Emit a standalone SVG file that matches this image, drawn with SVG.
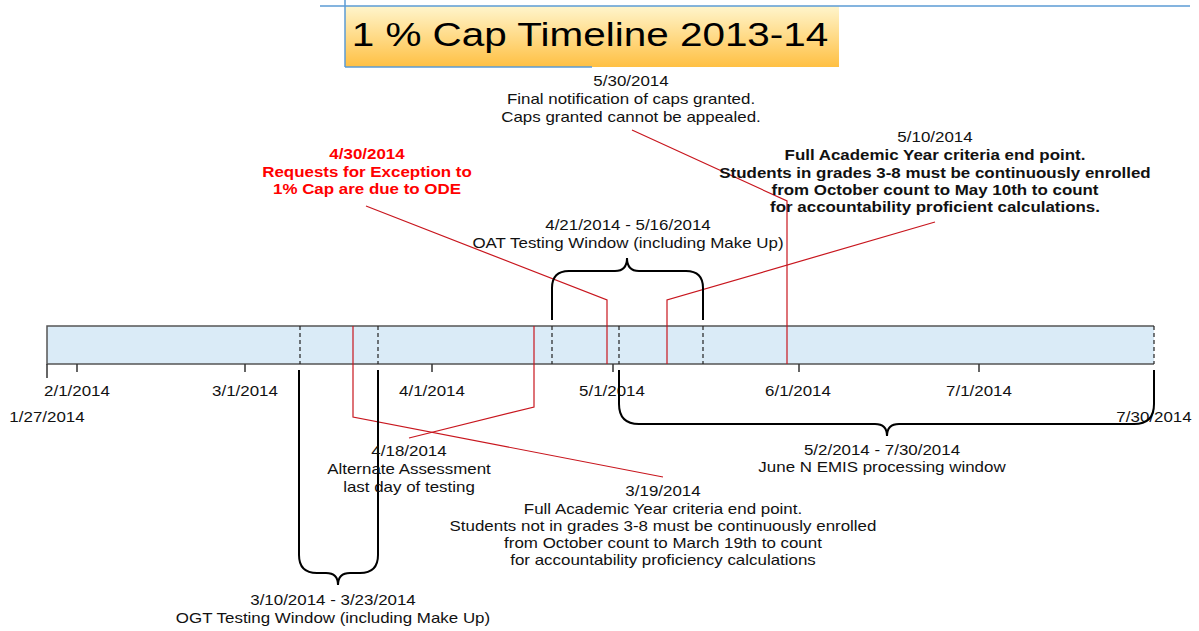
<svg xmlns="http://www.w3.org/2000/svg" width="1199" height="631" viewBox="0 0 1199 631">
<style>
.t{font-family:"Liberation Sans",Arial,sans-serif;font-size:14px;fill:#111;text-anchor:middle}
.b{font-weight:bold}
.r{font-weight:bold;fill:#FF0000}
.red{fill:none;stroke:#C8161E;stroke-width:1.2}
.brace{fill:none;stroke:#000;stroke-width:2}
.dash{stroke:#222;stroke-width:1.2;stroke-dasharray:4 3}
.tick{stroke:#333;stroke-width:1.5}
</style>
<defs>
<linearGradient id="tg" x1="0" y1="0" x2="0" y2="1">
<stop offset="0" stop-color="#FFF5CC"/>
<stop offset="1" stop-color="#FFC043"/>
</linearGradient>
</defs>
<rect width="1199" height="631" fill="#fff"/>
<g id="title">
<rect x="345" y="6" width="494" height="61" fill="url(#tg)"/>
<line x1="320" y1="6" x2="1190" y2="6" stroke="#5B9BD5" stroke-width="1.5"/>
<line x1="345" y1="0" x2="345" y2="67" stroke="#5B9BD5" stroke-width="1.5"/>
<line x1="345" y1="67" x2="592" y2="67" stroke="#5B9BD5" stroke-width="1.5"/>
<text class="t" style="font-size:34px;fill:#000" transform="matrix(1.19 0 0 1 590 46)">1 % Cap Timeline 2013-14</text>
</g>
<g id="timeline">
<rect x="47" y="326" width="1107" height="38" fill="#DAEBF7"/>
<path d="M1154,326 H47 V364 H1154" fill="none" stroke="#555" stroke-width="1.5"/>
<line class="dash" x1="1154" y1="326" x2="1154" y2="364"/>
<line class="dash" x1="300" y1="326" x2="300" y2="364"/>
<line class="dash" x1="378" y1="326" x2="378" y2="364"/>
<line class="dash" x1="552" y1="326" x2="552" y2="364"/>
<line class="dash" x1="619" y1="326" x2="619" y2="364"/>
<line class="dash" x1="703" y1="326" x2="703" y2="364"/>
<line class="tick" x1="47" y1="364" x2="47" y2="378"/>
<line class="tick" x1="77" y1="364" x2="77" y2="372"/>
<line class="tick" x1="245" y1="364" x2="245" y2="372"/>
<line class="tick" x1="432" y1="364" x2="432" y2="372"/>
<line class="tick" x1="613" y1="364" x2="613" y2="372"/>
<line class="tick" x1="799" y1="364" x2="799" y2="372"/>
<line class="tick" x1="979" y1="364" x2="979" y2="372"/>
<text class="t" transform="matrix(1.21 0 0 1 77 396)">2/1/2014</text>
<text class="t" transform="matrix(1.21 0 0 1 245 396)">3/1/2014</text>
<text class="t" transform="matrix(1.21 0 0 1 432 396)">4/1/2014</text>
<text class="t" transform="matrix(1.21 0 0 1 612 396)">5/1/2014</text>
<text class="t" transform="matrix(1.21 0 0 1 798 396)">6/1/2014</text>
<text class="t" transform="matrix(1.21 0 0 1 979 396)">7/1/2014</text>
<text class="t" transform="matrix(1.21 0 0 1 47 422)">1/27/2014</text>
<text class="t" transform="matrix(1.21 0 0 1 1154 422)">7/30/2014</text>
</g>
<g id="connectors">
<polyline class="red" points="353,326 353,417 663,477"/>
<polyline class="red" points="534,326 534,407 409,438"/>
<polyline class="red" points="607,364 607,300 366,206"/>
<polyline class="red" points="667,364 667,300 935,222"/>
<polyline class="red" points="787,364 787,201 632,130"/>
<path class="brace" d="M299,370 V555 Q299,573 317,573 H326 Q338,573 338,585 Q338,573 350,573 H360 Q378,573 378,555 V370"/>
<path class="brace" d="M552,320 V288 Q552,271 569,271 H615 Q627,271 627,258 Q627,271 639,271 H686 Q703,271 703,288 V320"/>
<path class="brace" d="M619,370 V404 Q619,424 639,424 H875 Q887,424 887,436 Q887,424 899,424 H1134 Q1154,424 1154,404 V370"/>
</g>
<g id="n530">
<text class="t" transform="matrix(1.21 0 0 1 631 86)"><tspan x="0" y="0">5/30/2014</tspan><tspan x="0" y="18">Final notification of caps granted.</tspan><tspan x="0" y="36">Caps granted cannot be appealed.</tspan></text>
</g>
<g id="n430">
<text class="t r" transform="matrix(1.21 0 0 1 367 159)"><tspan x="0" y="0">4/30/2014</tspan><tspan x="0" y="18">Requests for Exception to</tspan><tspan x="0" y="35">1% Cap are due to ODE</tspan></text>
</g>
<g id="n510">
<text class="t" transform="matrix(1.21 0 0 1 935 142)"><tspan x="0" y="0">5/10/2014</tspan><tspan class="b" x="0" y="18">Full Academic Year criteria end point.</tspan><tspan class="b" x="0" y="36">Students in grades 3-8 must be continuously enrolled</tspan><tspan class="b" x="0" y="53">from October count to May 10th to count</tspan><tspan class="b" x="0" y="70">for accountability proficient calculations.</tspan></text>
</g>
<g id="oat">
<text class="t" transform="matrix(1.21 0 0 1 628 230)"><tspan x="0" y="0">4/21/2014 - 5/16/2014</tspan><tspan x="0" y="18">OAT Testing Window (including Make Up)</tspan></text>
</g>
<g id="n418">
<text class="t" transform="matrix(1.21 0 0 1 409 456)"><tspan x="0" y="0">4/18/2014</tspan><tspan x="0" y="18">Alternate Assessment</tspan><tspan x="0" y="36">last day of testing</tspan></text>
</g>
<g id="n319">
<text class="t" transform="matrix(1.21 0 0 1 663 496)"><tspan x="0" y="0">3/19/2014</tspan><tspan x="0" y="18">Full Academic Year criteria end point.</tspan><tspan x="0" y="35">Students not in grades 3-8 must be continuously enrolled</tspan><tspan x="0" y="52">from October count to March 19th to count</tspan><tspan x="0" y="69">for accountability proficiency calculations</tspan></text>
</g>
<g id="junen">
<text class="t" transform="matrix(1.21 0 0 1 882 455)"><tspan x="0" y="0">5/2/2014 - 7/30/2014</tspan><tspan x="0" y="17">June N EMIS processing window</tspan></text>
</g>
<g id="ogt">
<text class="t" transform="matrix(1.21 0 0 1 333 605)"><tspan x="0" y="0">3/10/2014 - 3/23/2014</tspan><tspan x="0" y="18">OGT Testing Window (including Make Up)</tspan></text>
</g>
</svg>
